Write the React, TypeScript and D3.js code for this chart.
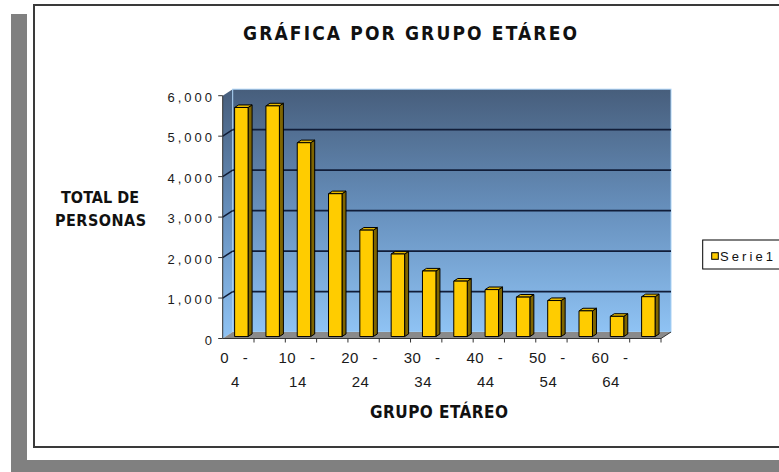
import React from "react";
import * as d3 from "d3";

const categories = ["0 - 4", "5 - 9", "10 - 14", "15 - 19", "20 - 24", "25 - 29", "30 - 34", "35 - 39", "40 - 44", "45 - 49", "50 - 54", "55 - 59", "60 - 64", "65 y más"];
const values = [5660, 5700, 4790, 3530, 2630, 2040, 1620, 1370, 1160, 975, 890, 635, 500, 985];
const yTicks = [0, 1000, 2000, 3000, 4000, 5000, 6000];
const seriesName = "Serie1";
const title = "GRÁFICA POR GRUPO ETÁREO";
const yTitle = ["TOTAL DE", "PERSONAS"];
const xTitle = "GRUPO ETÁREO";

const W = 779, H = 472;
const X0 = 222.7, X1 = 661, Y0 = 338.5, YT = 95.7;
const DX = 10, DY = -6.5;
const narrow = "'Liberation Sans Narrow', 'DejaVu Sans Condensed', 'Arial Narrow', sans-serif";
const arial = "'Liberation Sans', Arial, sans-serif";

export default function App() {
  const x = d3.scaleBand<string>().domain(categories).range([X0, X1]).padding(0);
  const y = d3.scaleLinear().domain([0, 6000]).range([Y0, YT]);
  const step = x.step();
  const bw = step * 0.43;
  const fmt = d3.format(",");

  const wallL = X0 + DX, wallR = X1 + DX, wallT = y(6000) + DY, wallB = Y0 + DY;

  return (
    <svg width={W} height={H} style={{ position: "absolute", left: 0, top: 0, background: "#fff" }}>
      <defs>
        <linearGradient id="wall" x1="0" y1="0" x2="0" y2="1">
          <stop offset="0" stopColor="#475e7c" />
          <stop offset="0.5" stopColor="#6790bd" />
          <stop offset="1" stopColor="#8fc3f4" />
        </linearGradient>
      </defs>
      {/* shadow */}
      <rect x={11} y={14} width={16} height={458} fill="#808080" />
      <rect x={11} y={460} width={768} height={12} fill="#808080" />
      {/* chart frame */}
      <rect x={34} y={5} width={770} height={442} fill="#fff" stroke="#3a3a3a" strokeWidth={2} />

      <text x={410} y={40} textAnchor="middle" fontFamily={narrow} fontWeight="bold" fontSize={19} fill="#111"
        textLength={334} lengthAdjust="spacing">{title}</text>

      {/* walls */}
      <polygon points={`${X0},${y(6000)} ${wallL},${wallT} ${wallL},${wallB} ${X0},${Y0}`} fill="url(#wall)" />
      <rect x={wallL} y={wallT} width={wallR - wallL} height={wallB - wallT} fill="url(#wall)" stroke="#a9d2f5" strokeWidth={1} />
      <polygon points={`${X0},${Y0} ${X1},${Y0} ${wallR},${wallB} ${wallL},${wallB}`} fill="#8a8a8a" />

      {/* gridlines */}
      {yTicks.filter(t => t > 0 && t < 6000).map(t => (
        <g key={t}>
          <line x1={wallL} x2={wallR} y1={y(t) + DY} y2={y(t) + DY} stroke="#111d38" strokeWidth={1.8} />
          <line x1={X0} x2={wallL} y1={y(t)} y2={y(t) + DY} stroke="#111d38" strokeWidth={1.5} />
        </g>
      ))}

      {/* bars */}
      {categories.map((c, i) => {
        const v = values[i];
        const fx = (x(c) as number) + (step - bw) / 2 + 0.3 * DX;
        const fyTop = y(v) + 0.3 * DY;
        const fyBot = Y0 + 0.3 * DY;
        const sx = 0.4 * DX, sy = 0.4 * DY;
        return (
          <g key={c} stroke="#000" strokeWidth={1} strokeLinejoin="round">
            <polygon points={`${fx + bw},${fyTop} ${fx + bw + sx},${fyTop + sy} ${fx + bw + sx},${fyBot + sy} ${fx + bw},${fyBot}`} fill="#7f6500" />
            <polygon points={`${fx},${fyTop} ${fx + sx},${fyTop + sy} ${fx + bw + sx},${fyTop + sy} ${fx + bw},${fyTop}`} fill="#e6b800" />
            <rect x={fx} y={fyTop} width={bw} height={fyBot - fyTop} fill="#ffcc00" />
          </g>
        );
      })}

      {/* y axis */}
      <line x1={X0} x2={X0} y1={y(6000)} y2={Y0} stroke="#333" strokeWidth={1} />
      {yTicks.map(t => (
        <g key={t}>
          <line x1={X0 - 4.5} x2={X0} y1={y(t)} y2={y(t)} stroke="#333" strokeWidth={1} />
          <text x={215} y={y(t) + 6} textAnchor="end" fontFamily={arial} fontSize={13} letterSpacing={3} fill="#1a1a1a">{fmt(t)}</text>
        </g>
      ))}

      {/* x axis */}
      <line x1={X0} x2={X1} y1={Y0} y2={Y0} stroke="#333" strokeWidth={1} />
      <line x1={X1} x2={wallR} y1={Y0} y2={wallB} stroke="#333" strokeWidth={1} />
      {categories.map((c) => (
        <line key={c} x1={(x(c) as number) + step} x2={(x(c) as number) + step} y1={Y0} y2={Y0 + 4} stroke="#333" strokeWidth={1} />
      ))}
      {categories.map((c, i) => {
        if (i % 2 !== 0) return null;
        const [a, b] = c.split(" - ");
        const cx = (x(c) as number) + step / 2 - 4;
        return (
          <g key={c} fontFamily={arial} fontSize={15} fill="#1a1a1a" textAnchor="middle">
            <text x={cx} y={363} wordSpacing={9} letterSpacing={0.5}>{`${a} -`}</text>
            <text x={cx + 1} y={386.5} letterSpacing={0.5}>{b}</text>
          </g>
        );
      })}

      {/* axis titles */}
      <text x={100} y={203} textAnchor="middle" fontFamily={narrow} fontWeight="bold" fontSize={16} fill="#111" textLength={78} lengthAdjust="spacing">{yTitle[0]}</text>
      <text x={100.5} y={226} textAnchor="middle" fontFamily={narrow} fontWeight="bold" fontSize={16} fill="#111" textLength={91} lengthAdjust="spacing">{yTitle[1]}</text>
      <text x={439} y={418} textAnchor="middle" fontFamily={narrow} fontWeight="bold" fontSize={17} fill="#111" textLength={138} lengthAdjust="spacing">{xTitle}</text>

      {/* legend */}
      <rect x={702.7} y={240} width={100} height={29} fill="#fff" stroke="#000" strokeWidth={1} />
      <rect x={711.7} y={252.7} width={6.6} height={6.6} fill="#ffcc00" stroke="#000" strokeWidth={1} />
      <text x={720} y={261} fontFamily={arial} fontSize={13} fill="#111" textLength={53} lengthAdjust="spacing">{seriesName}</text>
    </svg>
  );
}
